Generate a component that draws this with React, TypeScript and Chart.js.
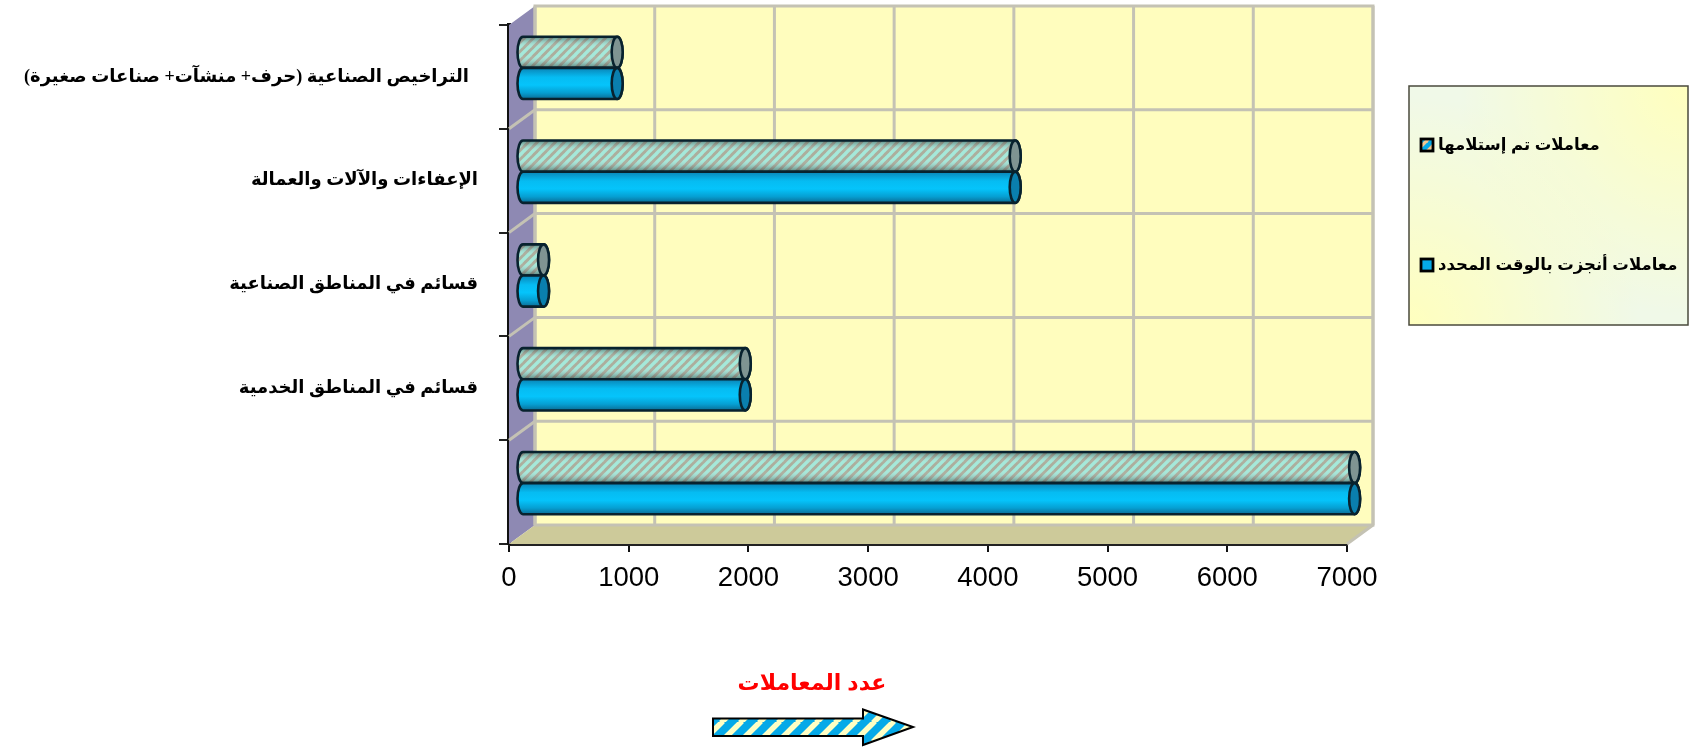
import React, { useEffect, useRef } from "react";
import { Chart, registerables } from "chart.js";

Chart.register(...registerables);

const categories = [
  "\u00A0\u00A0التراخيص الصناعية (حرف+ منشآت+ صناعات صغيرة)",
  "الإعفاءات والآلات والعمالة",
  "قسائم في المناطق الصناعية",
  "قسائم في المناطق الخدمية",
  "",
];
const received = [795, 4120, 180, 1865, 6955];
const onTime = [795, 4120, 180, 1865, 6955];
const seriesNames = ["معاملات تم إستلامها", "معاملات أنجزت بالوقت المحدد"];
const axisTitle = "عدد المعاملات";

const LABEL_FONT = '"Liberation Serif","DejaVu Sans",serif';
const SANS_FONT = '"Liberation Sans","DejaVu Sans",sans-serif';
const WALL_DX = 26;
const WALL_DY = 19;
const BAR_DX = 13;
const BAR_DY = 9;
const CAP_RX = 5.5;

function stripeTile(size: number, lineW: number, bg: string, fg: string) {
  const c = document.createElement("canvas");
  c.width = size;
  c.height = size;
  const g = c.getContext("2d")!;
  g.fillStyle = bg;
  g.fillRect(0, 0, size, size);
  g.strokeStyle = fg;
  g.lineWidth = lineW;
  for (const o of [-size, 0, size]) {
    g.beginPath();
    g.moveTo(o - 1, size + 1);
    g.lineTo(o + size + 1, -1);
    g.stroke();
  }
  return c;
}

const wallsPlugin = {
  id: "walls",
  beforeDatasetsDraw(chart: any) {
    const { ctx, chartArea: a, scales } = chart;
    const { left: l, right: r, top: t, bottom: b } = a;
    ctx.save();
    ctx.fillStyle = "#FFFDBE";
    ctx.fillRect(l + WALL_DX, t - WALL_DY, r - l, b - t);
    ctx.fillStyle = "#8E89B3";
    ctx.beginPath();
    ctx.moveTo(l, t);
    ctx.lineTo(l + WALL_DX, t - WALL_DY);
    ctx.lineTo(l + WALL_DX, b - WALL_DY);
    ctx.lineTo(l, b);
    ctx.closePath();
    ctx.fill();
    ctx.fillStyle = "#CDCA9A";
    ctx.beginPath();
    ctx.moveTo(l, b);
    ctx.lineTo(l + WALL_DX, b - WALL_DY);
    ctx.lineTo(r + WALL_DX, b - WALL_DY);
    ctx.lineTo(r, b);
    ctx.closePath();
    ctx.fill();
    ctx.strokeStyle = "#C4C2B4";
    ctx.lineWidth = 3;
    for (const tick of scales.x.ticks) {
      const x = scales.x.getPixelForValue(tick.value);
      ctx.beginPath();
      ctx.moveTo(x + WALL_DX, t - WALL_DY);
      ctx.lineTo(x + WALL_DX, b - WALL_DY);
      ctx.stroke();
    }
    ctx.strokeRect(l + WALL_DX, t - WALL_DY, r - l, b - t);
    const n = categories.length;
    const step = (b - t) / n;
    for (let i = 1; i < n; i++) {
      const y = t + i * step;
      ctx.beginPath();
      ctx.moveTo(l, y);
      ctx.lineTo(l + WALL_DX, y - WALL_DY);
      ctx.lineTo(r + WALL_DX, y - WALL_DY);
      ctx.stroke();
    }
    ctx.beginPath();
    ctx.moveTo(r + WALL_DX, b - WALL_DY);
    ctx.lineTo(r, b);
    ctx.stroke();
    ctx.restore();
  },
};

function cylinderPath(ctx: CanvasRenderingContext2D, x0: number, x1: number, top: number, bot: number) {
  const cy = (top + bot) / 2;
  const ry = (bot - top) / 2;
  ctx.beginPath();
  ctx.moveTo(x0, top);
  ctx.lineTo(x1, top);
  ctx.ellipse(x1, cy, CAP_RX, ry, 0, -Math.PI / 2, Math.PI / 2);
  ctx.lineTo(x0, bot);
  ctx.ellipse(x0, cy, CAP_RX, ry, 0, Math.PI / 2, (3 * Math.PI) / 2);
  ctx.closePath();
}

const cylinderPlugin = {
  id: "cylinders",
  afterDatasetsDraw(chart: any) {
    const { ctx } = chart;
    const hatch = ctx.createPattern(stripeTile(9, 3.4, "#A8AA98", "#A0E8D8"), "repeat");
    chart.data.datasets.forEach((ds: any, di: number) => {
      const meta = chart.getDatasetMeta(di);
      meta.data.forEach((el: any) => {
        const p = el.getProps(["x", "y", "base", "height"], true);
        const top = p.y - p.height / 2 - BAR_DY;
        const bot = p.y + p.height / 2 - BAR_DY;
        const x0 = p.base + BAR_DX;
        const x1 = p.x + BAR_DX;
        const isHatch = ds.cylinder === "hatch";
        ctx.save();
        cylinderPath(ctx, x0, x1, top, bot);
        if (isHatch) {
          ctx.fillStyle = hatch;
          ctx.fill();
          const g = ctx.createLinearGradient(0, top, 0, bot);
          g.addColorStop(0, "rgba(20,40,40,0.5)");
          g.addColorStop(0.35, "rgba(255,255,255,0.05)");
          g.addColorStop(0.6, "rgba(255,255,255,0.05)");
          g.addColorStop(1, "rgba(20,40,40,0.55)");
          ctx.fillStyle = g;
          ctx.fill();
        } else {
          const g = ctx.createLinearGradient(0, top, 0, bot);
          g.addColorStop(0, "#0A84B6");
          g.addColorStop(0.3, "#06BCF2");
          g.addColorStop(0.55, "#05C4FB");
          g.addColorStop(0.8, "#069FD2");
          g.addColorStop(1, "#0A6C94");
          ctx.fillStyle = g;
          ctx.fill();
        }
        ctx.strokeStyle = "#08222E";
        ctx.lineWidth = 2.6;
        ctx.stroke();
        ctx.beginPath();
        ctx.ellipse(x1, (top + bot) / 2, CAP_RX, (bot - top) / 2, 0, 0, Math.PI * 2);
        ctx.fillStyle = isHatch ? "#7F9492" : "#0A7FAE";
        ctx.fill();
        ctx.stroke();
        ctx.restore();
      });
    });
  },
};

const annotationPlugin = {
  id: "annotations",
  afterDraw(chart: any) {
    const { ctx } = chart;
    ctx.save();
    const bx = 1409, by = 86, bw = 279, bh = 239;
    ctx.fillStyle = "#F0F9E8";
    ctx.fillRect(bx, by, bw, bh);
    const corner = (cx: number, cy: number) => {
      const rg = ctx.createRadialGradient(cx, cy, 0, cx, cy, 230);
      rg.addColorStop(0, "rgba(255,255,190,1)");
      rg.addColorStop(1, "rgba(255,255,190,0)");
      ctx.fillStyle = rg;
      ctx.fillRect(bx, by, bw, bh);
    };
    corner(bx + bw, by);
    corner(bx, by + bh);
    ctx.strokeStyle = "#4A4A3C";
    ctx.lineWidth = 1.5;
    ctx.strokeRect(bx, by, bw, bh);

    const rows = [145, 265];
    const swatch = ctx.createPattern(stripeTile(11, 4.5, "#F2C792", "#05A9E8"), "repeat");
    seriesNames.forEach((name, i) => {
      const y = rows[i];
      ctx.fillStyle = i === 0 ? swatch : "#05A9E8";
      ctx.fillRect(1421, y - 6, 12, 12);
      ctx.strokeStyle = "#000";
      ctx.lineWidth = 2.8;
      ctx.strokeRect(1421, y - 6, 12, 12);
      ctx.fillStyle = "#000";
      ctx.font = "bold 16.5px " + SANS_FONT;
      ctx.textBaseline = "middle";
      ctx.direction = "rtl";
      ctx.textAlign = "right";
      const w = ctx.measureText(name).width;
      ctx.fillText(name, 1438 + w, y);
    });

    ctx.fillStyle = "#FF0000";
    ctx.font = "bold 22px " + SANS_FONT;
    ctx.textAlign = "center";
    ctx.textBaseline = "middle";
    ctx.fillText(axisTitle, 812, 684);

    ctx.beginPath();
    ctx.moveTo(713, 718.5);
    ctx.lineTo(863, 718.5);
    ctx.lineTo(863, 709.5);
    ctx.lineTo(913, 727);
    ctx.lineTo(863, 745);
    ctx.lineTo(863, 736);
    ctx.lineTo(713, 736);
    ctx.closePath();
    ctx.fillStyle = ctx.createPattern(stripeTile(19, 5.5, "#05A9E8", "#FFFFC4"), "repeat");
    ctx.fill();
    ctx.strokeStyle = "#000";
    ctx.lineWidth = 2;
    ctx.stroke();
    ctx.restore();
  },
};

export default function App() {
  const ref = useRef<HTMLCanvasElement>(null);
  useEffect(() => {
    const chart = new Chart(ref.current!, {
      type: "bar",
      data: {
        labels: categories,
        datasets: [
          { label: seriesNames[0], data: received, cylinder: "hatch", backgroundColor: "rgba(0,0,0,0)", borderWidth: 0 } as any,
          { label: seriesNames[1], data: onTime, cylinder: "solid", backgroundColor: "rgba(0,0,0,0)", borderWidth: 0 } as any,
        ],
      },
      plugins: [wallsPlugin, cylinderPlugin, annotationPlugin],
      options: {
        indexAxis: "y",
        responsive: false,
        animation: false,
        devicePixelRatio: 1,
        layout: { padding: { top: 25, right: 343, left: 0, bottom: 0 } },
        datasets: { bar: { categoryPercentage: 0.6, barPercentage: 1 } },
        plugins: { legend: { display: false }, tooltip: { enabled: false }, title: { display: false } },
        scales: {
          x: {
            min: 0,
            max: 7000,
            afterFit: (s: any) => { s.height = 203; },
            ticks: {
              stepSize: 1000,
              maxRotation: 0,
              color: "#000",
              padding: 10,
              font: { family: SANS_FONT, size: 27.5 },
              callback: (v: any) => String(v),
            },
            border: { display: true, color: "#222", width: 3 },
            grid: { drawOnChartArea: false, drawTicks: true, tickLength: 8, color: "#111", lineWidth: 2 },
          },
          y: {
            afterFit: (s: any) => {
              s.width = 509;
              s.paddingTop = 0;
              s.paddingBottom = 0;
            },
            ticks: {
              color: "#000",
              padding: 21,
              autoSkip: false,
              font: { family: LABEL_FONT, size: 18, weight: "bold" },
            },
            border: { display: true, color: "#111", width: 4 },
            grid: { drawOnChartArea: false, drawTicks: true, tickLength: 10, color: "#222", lineWidth: 2 },
          },
        },
      } as any,
    });
    return () => chart.destroy();
  }, []);
  return (
    <canvas
      ref={ref}
      width={1690}
      height={747}
      style={{ position: "fixed", left: 0, top: 0, width: 1690, height: 747, background: "#fff", direction: "rtl" }}
    />
  );
}
